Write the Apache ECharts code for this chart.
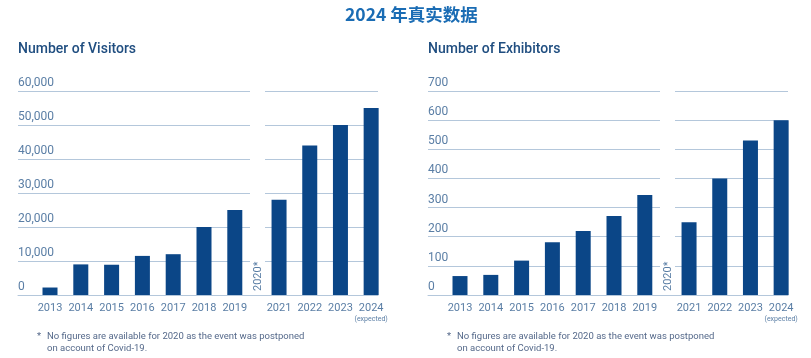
<!DOCTYPE html>
<html><head><meta charset="utf-8">
<script src="https://cdn.jsdelivr.net/npm/echarts@6/dist/echarts.min.js"></script>
<style>html,body{margin:0;padding:0;background:#fff}#c{width:811px;height:358px}</style>
</head><body><div id="c"></div>
<script>
const yearsBefore = ['2013','2014','2015','2016','2017','2018','2019'];
const yearsAfter = ['2021','2022','2023','2024'];
const visitorsBefore = [2200, 9000, 8900, 11500, 12000, 20000, 25000];
const visitorsAfter = [28000, 44000, 50000, 55000];
const exhibitorsBefore = [65, 69, 118, 181, 220, 271, 343];
const exhibitorsAfter = [250, 400, 530, 600];
const visitorsMax = 60000, visitorsStep = 10000;
const exhibitorsMax = 700, exhibitorsStep = 100;
const mainTitle = '2024 年真实数据';
const subTitles = ['Number of Visitors', 'Number of Exhibitors'];
const gapLabel = '2020*';
const expectedNote = '(expected)';
const footLine1 = 'No figures are available for 2020 as the event was postponed';
const footLine2 = 'on account of Covid-19.';

const BAR = '#0b4687', GRID = '#b4c7db', LBL = '#5a7ea5', SUB = '#204e80', TITLE = '#1a6cb4', FOOT = '#55698a';
const FONT = 'Roboto';
const TOP = 91, H = 204;

const grid = [], xAxis = [], yAxis = [], series = [], graphic = [];

function addChart(off, b, bv, a, av, max, step) {
  const g0 = grid.length;
  grid.push({left: off + 18, top: TOP, width: 232, height: H});
  grid.push({left: off + 34.6, top: TOP, width: 215.6, height: H});
  grid.push({left: off + 265, top: TOP, width: 113, height: H});
  grid.push({left: off + 263.7, top: TOP, width: 122.8, height: H});
  grid.push({left: off + 18, top: TOP, width: 360, height: H});

  const hiddenVal = {type: 'value', min: 0, max: 1, show: false};
  const yHidden = {type: 'value', min: 0, max: max, interval: step, show: false};
  const split = {show: true, lineStyle: {color: GRID, width: 1}};
  xAxis.push(Object.assign({gridIndex: g0}, hiddenVal));
  yAxis.push({gridIndex: g0, type: 'value', min: 0, max: max, interval: step,
    axisLine: {show: false}, axisTick: {show: false}, splitLine: split,
    axisLabel: {inside: true, margin: 0, align: 'left', verticalAlign: 'bottom', padding: [0, 0, 2, 0],
      color: LBL, fontFamily: FONT, fontSize: 12,
      formatter: v => v.toLocaleString('en-US')}});
  const xCat = (data, gi) => ({gridIndex: gi, type: 'category', data: data,
    axisLine: {show: false}, axisTick: {show: false},
    axisLabel: {interval: 0, margin: 7, color: LBL, fontFamily: FONT, fontSize: 11, lineHeight: 12,
      formatter: v => v === '2024' ? v + '\n{e|' + expectedNote + '}' : v,
      rich: {e: {fontSize: 7, lineHeight: 10, color: LBL, fontFamily: FONT}}}});
  xAxis.push(xCat(b, g0 + 1));
  yAxis.push(Object.assign({gridIndex: g0 + 1}, yHidden));
  xAxis.push(Object.assign({gridIndex: g0 + 2}, hiddenVal));
  yAxis.push({gridIndex: g0 + 2, type: 'value', min: 0, max: max, interval: step,
    axisLine: {show: false}, axisTick: {show: false}, axisLabel: {show: false}, splitLine: split});
  xAxis.push(xCat(a, g0 + 3));
  yAxis.push(Object.assign({gridIndex: g0 + 3}, yHidden));
  xAxis.push({gridIndex: g0 + 4, type: 'value', min: 0, max: 1, position: 'top',
    axisLine: {show: true, lineStyle: {color: GRID, width: 1}}, axisTick: {show: false},
    axisLabel: {show: false}, splitLine: {show: false}});
  yAxis.push(Object.assign({gridIndex: g0 + 4}, yHidden));

  const barStyle = {type: 'bar', barWidth: 15, itemStyle: {color: BAR}, silent: true, animation: false};
  series.push(Object.assign({xAxisIndex: g0 + 1, yAxisIndex: g0 + 1, data: bv}, barStyle));
  series.push(Object.assign({xAxisIndex: g0 + 3, yAxisIndex: g0 + 3, data: av}, barStyle));

  graphic.push({type: 'text', x: off + 258, y: 291, rotation: Math.PI / 2,
    style: {text: gapLabel, fill: LBL, font: '11px ' + FONT, textAlign: 'left', textVerticalAlign: 'middle'}});
  graphic.push({type: 'text', x: off + 37, y: 337,
    style: {text: '*', fill: FOOT, font: '9.5px ' + FONT, textAlign: 'left', textVerticalAlign: 'middle'}});
  graphic.push({type: 'text', x: off + 47, y: 337,
    style: {text: footLine1, fill: FOOT, font: '9.5px ' + FONT, textAlign: 'left', textVerticalAlign: 'middle'}});
  graphic.push({type: 'text', x: off + 47, y: 349,
    style: {text: footLine2, fill: FOOT, font: '9.5px ' + FONT, textAlign: 'left', textVerticalAlign: 'middle'}});
}

addChart(0, yearsBefore, visitorsBefore, yearsAfter, visitorsAfter, visitorsMax, visitorsStep);
addChart(410, yearsBefore, exhibitorsBefore, yearsAfter, exhibitorsAfter, exhibitorsMax, exhibitorsStep);

const chart = echarts.init(document.getElementById('c'), null, {renderer: 'canvas'});
chart.setOption({
  animation: false,
  title: [
    {text: mainTitle, left: 345, top: 6, padding: 0, textStyle: {color: TITLE, fontSize: 17.5, fontWeight: 'bold', fontFamily: 'Noto Sans CJK SC'}},
    {text: subTitles[0], left: 18, top: 42, padding: 0, textStyle: {color: SUB, fontSize: 14, fontWeight: 500, fontFamily: FONT}},
    {text: subTitles[1], left: 428, top: 42, padding: 0, textStyle: {color: SUB, fontSize: 14, fontWeight: 500, fontFamily: FONT}}
  ],
  grid, xAxis, yAxis, series, graphic
});
</script></body></html>
